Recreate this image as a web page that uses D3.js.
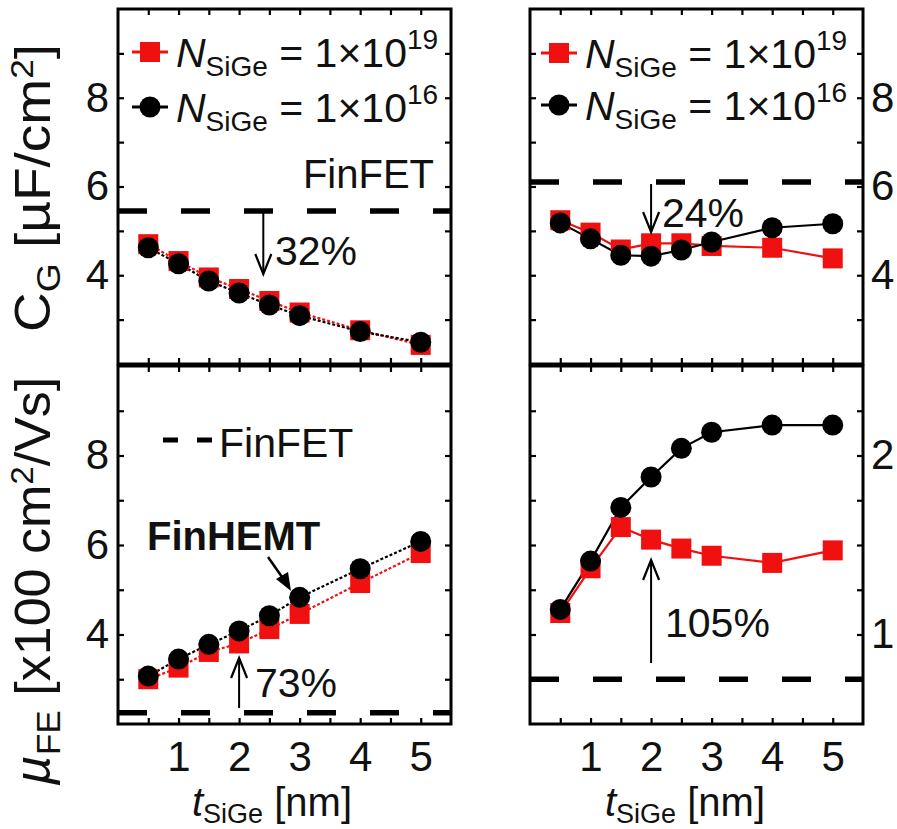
<!DOCTYPE html>
<html>
<head>
<meta charset="utf-8">
<script src="https://cdn.jsdelivr.net/npm/d3@7"></script>
<style>
  html, body { margin: 0; padding: 0; background: #fff; }
  svg { display: block; }
  text { font-family: "Liberation Sans", Arial, sans-serif; fill: #111; }
</style>
</head>
<body>
<svg id="chart" width="897" height="829"></svg>
<script>
// SiGe layer thickness (nm)
const tSiGe = [0.5, 1, 1.5, 2, 2.5, 3, 4, 5];

// Gate capacitance C_G [uF/cm^2]
const cgLeftHigh  = [4.70, 4.32, 3.95, 3.69, 3.42, 3.16, 2.76, 2.43];
const cgLeftLow   = [4.62, 4.26, 3.87, 3.60, 3.33, 3.09, 2.73, 2.49];
const cgRightHigh = [5.24, 4.96, 4.58, 4.72, 4.72, 4.66, 4.62, 4.38];
const cgRightLow  = [5.18, 4.82, 4.45, 4.43, 4.57, 4.75, 5.07, 5.16];

// Field-effect mobility mu_FE [x100 cm^2/Vs]
const muLeftHigh  = [3.00, 3.26, 3.61, 3.80, 4.12, 4.46, 5.15, 5.82];
const muLeftLow   = [3.07, 3.45, 3.78, 4.08, 4.42, 4.83, 5.47, 6.08];
const muRightHigh = [1.12, 1.37, 1.60, 1.53, 1.48, 1.44, 1.40, 1.47];
const muRightLow  = [1.14, 1.41, 1.71, 1.88, 2.04, 2.13, 2.17, 2.17];

// FinFET reference levels
const cgFinFETLeft = 5.45, cgFinFETRight = 6.1;
const muFinFETLeft = 2.25, muFinFETRight = 0.75;

// Axis ticks
const xTicks = [0.5, 1, 1.5, 2, 2.5, 3, 3.5, 4, 4.5, 5];
const xLabels = [1, 2, 3, 4, 5];
const yTicksMain = [3, 4, 5, 6, 7, 8, 9];
const yLabelsMain = [4, 6, 8];
const yTicksMuR = [0.75, 1, 1.25, 1.5, 1.75, 2, 2.25];
const yLabelsMuR = [1, 2];

const RED = "#f01010", BLACK = "#000";
const svg = d3.select("#chart");

const colL = [118, 451], colR = [530, 863];
const rowT = [9, 364], rowB = [366, 724];

function panel(opts) {
  const x = d3.scaleLinear().domain([0, 5.5]).range(opts.xr);
  const y = d3.scaleLinear().domain(opts.yd).range([opts.yr[1], opts.yr[0]]);
  const g = svg.append("g");
  const fmtY = v => opts.yLabels.includes(v) ? String(v) : "";
  const fmtX = v => (opts.showX && xLabels.includes(v)) ? String(v) : "";
  const tk = 6;

  // ticks on all four sides, pointing inward
  g.append("g").attr("transform", `translate(0,${opts.yr[1]})`)
    .call(d3.axisBottom(x).tickValues(xTicks).tickSizeInner(-tk).tickSizeOuter(0).tickPadding(17).tickFormat(fmtX));
  g.append("g").attr("transform", `translate(0,${opts.yr[0]})`)
    .call(d3.axisTop(x).tickValues(xTicks).tickSizeInner(-tk).tickSizeOuter(0).tickFormat(() => ""));
  g.append("g").attr("transform", `translate(${opts.xr[0]},0)`)
    .call(d3.axisLeft(y).tickValues(opts.yTicks).tickSizeInner(-tk).tickSizeOuter(0).tickPadding(9)
      .tickFormat(opts.labelSide === "left" ? fmtY : () => ""));
  g.append("g").attr("transform", `translate(${opts.xr[1]},0)`)
    .call(d3.axisRight(y).tickValues(opts.yTicks).tickSizeInner(-tk).tickSizeOuter(0).tickPadding(8)
      .tickFormat(opts.labelSide === "right" ? fmtY : () => ""));
  g.selectAll(".domain").remove();
  g.selectAll(".tick line").attr("stroke", "#000").attr("stroke-width", 2.2);
  g.selectAll(".tick text").attr("font-size", 42).attr("fill", "#111")
    .attr("font-family", "'Liberation Sans', Arial, sans-serif");

  // FinFET reference (dashed)
  g.append("line")
    .attr("x1", opts.xr[0]).attr("x2", opts.xr[1])
    .attr("y1", y(opts.ref)).attr("y2", y(opts.ref))
    .attr("stroke", "#000").attr("stroke-width", 5.5)
    .attr("stroke-dasharray", "29,34");

  const line = d3.line().x((d, i) => x(tSiGe[i])).y(d => y(d));
  const dash = opts.dashed ? "3,2" : null;
  [[opts.high, RED], [opts.low, BLACK]].forEach(([vals, col]) => {
    g.append("path").datum(vals).attr("d", line)
      .attr("fill", "none").attr("stroke", col).attr("stroke-width", 2.2)
      .attr("stroke-dasharray", dash);
  });
  g.selectAll(".sq").data(opts.high).enter().append("rect")
    .attr("x", (d, i) => x(tSiGe[i]) - 10).attr("y", d => y(d) - 10)
    .attr("width", 20).attr("height", 20).attr("fill", RED);
  g.selectAll(".ci").data(opts.low).enter().append("circle")
    .attr("cx", (d, i) => x(tSiGe[i])).attr("cy", d => y(d))
    .attr("r", 10.5).attr("fill", BLACK);

  // frame
  g.append("rect")
    .attr("x", opts.xr[0]).attr("y", opts.yr[0])
    .attr("width", opts.xr[1] - opts.xr[0]).attr("height", opts.yr[1] - opts.yr[0])
    .attr("fill", "none").attr("stroke", "#000").attr("stroke-width", 3);
  return { x, y, g };
}

const pTL = panel({ xr: colL, yr: rowT, yd: [2, 10], yTicks: yTicksMain, yLabels: yLabelsMain,
  labelSide: "left", ref: cgFinFETLeft, high: cgLeftHigh, low: cgLeftLow, dashed: true, showX: false });
const pTR = panel({ xr: colR, yr: rowT, yd: [2, 10], yTicks: yTicksMain, yLabels: yLabelsMain,
  labelSide: "right", ref: cgFinFETRight, high: cgRightHigh, low: cgRightLow, dashed: false, showX: false });
const pBL = panel({ xr: colL, yr: rowB, yd: [2, 10], yTicks: yTicksMain, yLabels: yLabelsMain,
  labelSide: "left", ref: muFinFETLeft, high: muLeftHigh, low: muLeftLow, dashed: true, showX: true });
const pBR = panel({ xr: colR, yr: rowB, yd: [0.5, 2.5], yTicks: yTicksMuR, yLabels: yLabelsMuR,
  labelSide: "right", ref: muFinFETRight, high: muRightHigh, low: muRightLow, dashed: false, showX: true });

// legends
function legend(x0, yRow1, yRow2) {
  const rows = [[yRow1, RED, "sq", "19"], [yRow2, BLACK, "ci", "16"]];
  rows.forEach(([yy, col, shape, exp]) => {
    svg.append("line").attr("x1", x0).attr("x2", x0 + 36).attr("y1", yy).attr("y2", yy)
      .attr("stroke", col).attr("stroke-width", 3);
    if (shape === "sq") {
      svg.append("rect").attr("x", x0 + 8).attr("y", yy - 10).attr("width", 20).attr("height", 20).attr("fill", col);
    } else {
      svg.append("circle").attr("cx", x0 + 18).attr("cy", yy).attr("r", 10.5).attr("fill", col);
    }
    const t = svg.append("text").attr("x", x0 + 44).attr("y", yy + 15).attr("font-size", 41);
    t.append("tspan").attr("font-style", "italic").text("N");
    t.append("tspan").attr("font-size", 28).attr("dy", 9).text("SiGe");
    t.append("tspan").attr("dy", -9).text(" = 1×10");
    t.append("tspan").attr("font-size", 28).attr("dy", -18).text(exp);
  });
}
legend(132, 52, 107);
legend(541, 53, 105);

// annotations
function arrowV(x, yFrom, yTo) {
  const dir = yTo > yFrom ? -1 : 1;
  svg.append("line").attr("x1", x).attr("x2", x).attr("y1", yFrom).attr("y2", yTo)
    .attr("stroke", "#000").attr("stroke-width", 2);
  svg.append("path")
    .attr("d", `M${x - 8},${yTo + dir * 20}L${x},${yTo}L${x + 8},${yTo + dir * 20}`)
    .attr("fill", "none").attr("stroke", "#000").attr("stroke-width", 2.2);
}
function label(x, y, txt, size, anchor, weight) {
  return svg.append("text").attr("x", x).attr("y", y).attr("font-size", size)
    .attr("text-anchor", anchor || "start").attr("font-weight", weight || "normal").text(txt);
}

// top-left
label(434, 188, "FinFET", 40, "end");
arrowV(pTL.x(2.4), pTL.y(cgFinFETLeft) + 2, 274);
label(275, 265, "32%", 41);

// top-right
arrowV(pTR.x(2), pTR.y(cgFinFETRight) + 2, 232);
label(662, 227, "24%", 41);

// bottom-left
svg.append("line").attr("x1", 163).attr("x2", 213).attr("y1", 440).attr("y2", 440)
  .attr("stroke", "#000").attr("stroke-width", 5).attr("stroke-dasharray", "15,19");
label(219, 457, "FinFET", 41);
label(147, 550, "FinHEMT", 40, "start", "bold");
svg.append("line").attr("x1", 268).attr("y1", 557).attr("x2", 282).attr("y2", 577)
  .attr("stroke", "#000").attr("stroke-width", 2.5);
svg.append("path").attr("d", "M276,579L291,591L288,572Z").attr("fill", "#000");
arrowV(pBL.x(2), 708, 658);
label(255, 697, "73%", 41);

// bottom-right
arrowV(pBR.x(2), 663, 560);
label(665, 637, "105%", 41);

// axis titles
function xTitle(cx) {
  const t = svg.append("text").attr("x", cx).attr("y", 816).attr("font-size", 40).attr("text-anchor", "middle");
  t.append("tspan").attr("font-style", "italic").text("t");
  t.append("tspan").attr("font-size", 27).attr("dy", 7).text("SiGe");
  t.append("tspan").attr("dy", -7).text(" [nm]");
}
xTitle(272);
xTitle(685);

// rotated titles, stretched slightly along the reading direction
const yt1 = svg.append("text").attr("transform", "translate(50,188) rotate(-90) scale(1.1,1)")
  .attr("font-size", 50).attr("text-anchor", "middle");
yt1.append("tspan").text("C");
yt1.append("tspan").attr("font-size", 34).attr("dy", 10).text("G");
yt1.append("tspan").attr("dy", -10).text(" [µF/cm");
yt1.append("tspan").attr("font-size", 32).attr("dy", -17).text("2");
yt1.append("tspan").attr("dy", 17).text("]");

const yt2 = svg.append("text").attr("transform", "translate(50,581) rotate(-90) scale(1.04,1)")
  .attr("font-size", 50).attr("text-anchor", "middle");
yt2.append("tspan").attr("font-style", "italic").text("µ");
yt2.append("tspan").attr("font-size", 34).attr("dy", 10).text("FE");
yt2.append("tspan").attr("dy", -10).text(" [x100 cm");
yt2.append("tspan").attr("font-size", 32).attr("dy", -17).text("2");
yt2.append("tspan").attr("dy", 17).text("/Vs]");
</script>
</body>
</html>
